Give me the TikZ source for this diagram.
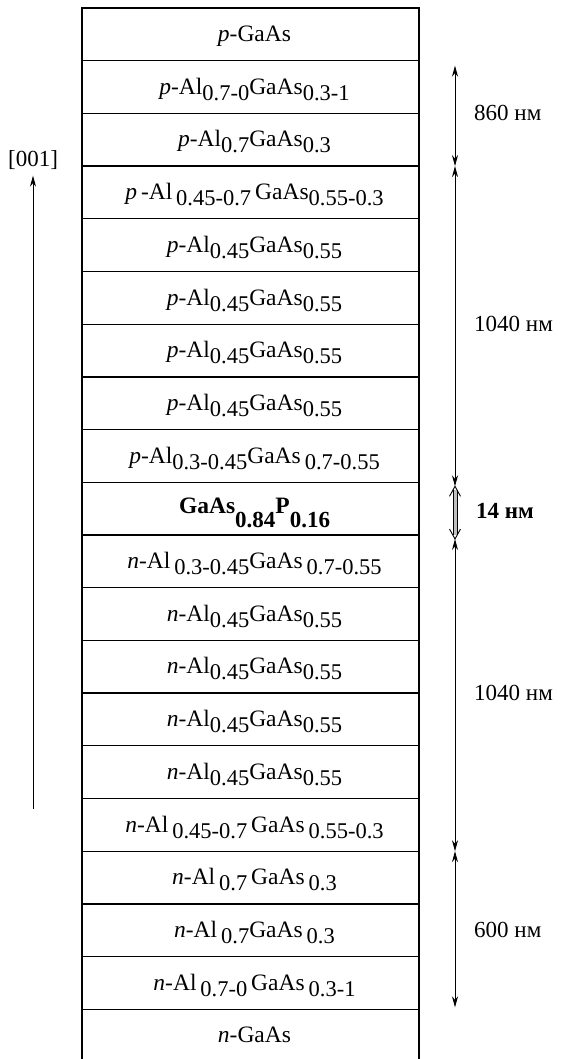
\documentclass[tikz,border=0pt]{standalone}
\usepackage{fontspec}
\setmainfont{Liberation Serif}
\usetikzlibrary{arrows.meta,calc}
\newcommand\lsb[1]{\raisebox{-6pt}{\fontsize{22.5}{22.5}\selectfont #1}}
\newcommand\bsb[1]{\raisebox{-14pt}{\fontsize{23}{23}\selectfont\bfseries #1}}
\begin{document}
\begin{tikzpicture}[x=1pt,y=-1pt,
  layer/.style={draw,line width=1.3pt,minimum width=337pt,minimum height=52.7pt,inner sep=0pt,outer sep=0pt,
    text height=33.5pt,text depth=19.2pt,font=\fontsize{23.5}{23.5}\selectfont,
    execute at begin node={\hspace*{8pt}}},
  boldlayer/.style={layer,text height=31pt,text depth=21.7pt},
  openlayer/.style={layer,draw=none},
  dim/.style={line width=0.8pt,{Stealth[length=11pt,width=6pt]}-{Stealth[length=11pt,width=6pt]}},
  dimlab/.style={anchor=west,font=\fontsize{23}{23}\selectfont,inner sep=0pt}]
\useasboundingbox (0,0) rectangle (560,1059);
\def\cx{250.5}
\node[layer] (l1) at (\cx,34.35) {\textit{p}-GaAs};
\node[layer] (l2) at (\cx,87.05) {\textit{p}-Al\lsb{0.7-0}GaAs\lsb{0.3-1}};
\node[layer] (l3) at (\cx,139.75) {\textit{p}-Al\lsb{0.7}GaAs\lsb{0.3}};
\node[layer] (l4) at (\cx,192.45) {\textit{p}\,-Al\,\lsb{0.45-0.7}\,GaAs\lsb{0.55-0.3}};
\node[layer] (l5) at (\cx,245.15) {\textit{p}-Al\lsb{0.45}GaAs\lsb{0.55}};
\node[layer] (l6) at (\cx,297.85) {\textit{p}-Al\lsb{0.45}GaAs\lsb{0.55}};
\node[layer] (l7) at (\cx,350.55) {\textit{p}-Al\lsb{0.45}GaAs\lsb{0.55}};
\node[layer] (l8) at (\cx,403.25) {\textit{p}-Al\lsb{0.45}GaAs\lsb{0.55}};
\node[layer] (l9) at (\cx,455.95) {\textit{p}-Al\lsb{0.3-0.45}GaAs\,\lsb{0.7-0.55}};
\node[boldlayer] (l10) at (\cx,508.65) {\textbf{GaAs}\bsb{0.84}\textbf{P}\bsb{0.16}};
\node[layer] (l11) at (\cx,561.35) {\textit{n}-Al\,\lsb{0.3-0.45}GaAs\,\lsb{0.7-0.55}};
\node[layer] (l12) at (\cx,614.05) {\textit{n}-Al\lsb{0.45}GaAs\lsb{0.55}};
\node[layer] (l13) at (\cx,666.75) {\textit{n}-Al\lsb{0.45}GaAs\lsb{0.55}};
\node[layer] (l14) at (\cx,719.45) {\textit{n}-Al\lsb{0.45}GaAs\lsb{0.55}};
\node[layer] (l15) at (\cx,772.15) {\textit{n}-Al\lsb{0.45}GaAs\lsb{0.55}};
\node[layer] (l16) at (\cx,824.85) {\textit{n}-Al\,\lsb{0.45-0.7}\,GaAs\,\lsb{0.55-0.3}};
\node[layer] (l17) at (\cx,877.55) {\textit{n}-Al\,\lsb{0.7}\,GaAs\,\lsb{0.3}};
\node[layer] (l18) at (\cx,930.25) {\textit{n}-Al\,\lsb{0.7}GaAs\,\lsb{0.3}};
\node[layer] (l19) at (\cx,982.95) {\textit{n}-Al\,\lsb{0.7-0}\,GaAs\,\lsb{0.3-1}};
\node[openlayer] (l20) at (\cx,1035.65) {\textit{n}-GaAs};
\draw[line width=1.3pt] (l20.south west) -- (l20.north west) -- (l20.north east) -- (l20.south east);
% dimension arrows
\coordinate (dx) at (455,0);
\coordinate (d1) at ($(l1.south -| dx)+(0,5)$);
\coordinate (d2) at (l3.south -| dx);
\coordinate (d3) at ($(l9.south -| dx)+(0,4)$);
\coordinate (d4) at ($(l10.south -| dx)+(0,4)$);
\coordinate (d5) at (l16.south -| dx);
\coordinate (d6) at ($(l19.south -| dx)+(0,-2)$);
\draw[dim] (d1) -- (d2);
\draw[dim] (d2) -- (d3);
\draw[dim] (d4) -- (d5);
\draw[dim] (d5) -- (d6);
% 14 nm open double arrow
\fill[gray!50] ($(d3)+(-2,4)$) rectangle ($(d4)+(2,-4)$);
\draw[line width=0.8pt] ($(d3)+(-2,4)$) -- ($(d4)+(-2,-4)$);
\draw[line width=0.8pt] ($(d3)+(2,4)$) -- ($(d4)+(2,-4)$);
\draw[line width=0.9pt,line join=miter] ($(d3)+(-5.5,10)$) -- (d3) -- ($(d3)+(5.5,10)$);
\draw[line width=0.9pt,line join=miter] ($(d4)+(-5.5,-10)$) -- (d4) -- ($(d4)+(5.5,-10)$);
\node[dimlab] (t1) at (474,113) {860 нм};
\node[dimlab] (t2) at (474,324) {1040 нм};
\node[dimlab,font=\fontsize{23}{23}\selectfont\bfseries] (t3) at (476,511) {14 нм};
\node[dimlab] (t4) at (474,693) {1040 нм};
\node[dimlab] (t5) at (474,930) {600 нм};
% growth direction
\node[font=\fontsize{23}{23}\selectfont,inner sep=0pt] (dir) at (33,160) {[001]};
\coordinate (dirb) at (33,809);
\draw[line width=0.8pt,-{Stealth[length=11pt,width=6pt]}] (dirb) -- ($(dir.south)+(0,6)$);
\end{tikzpicture}
\end{document}
